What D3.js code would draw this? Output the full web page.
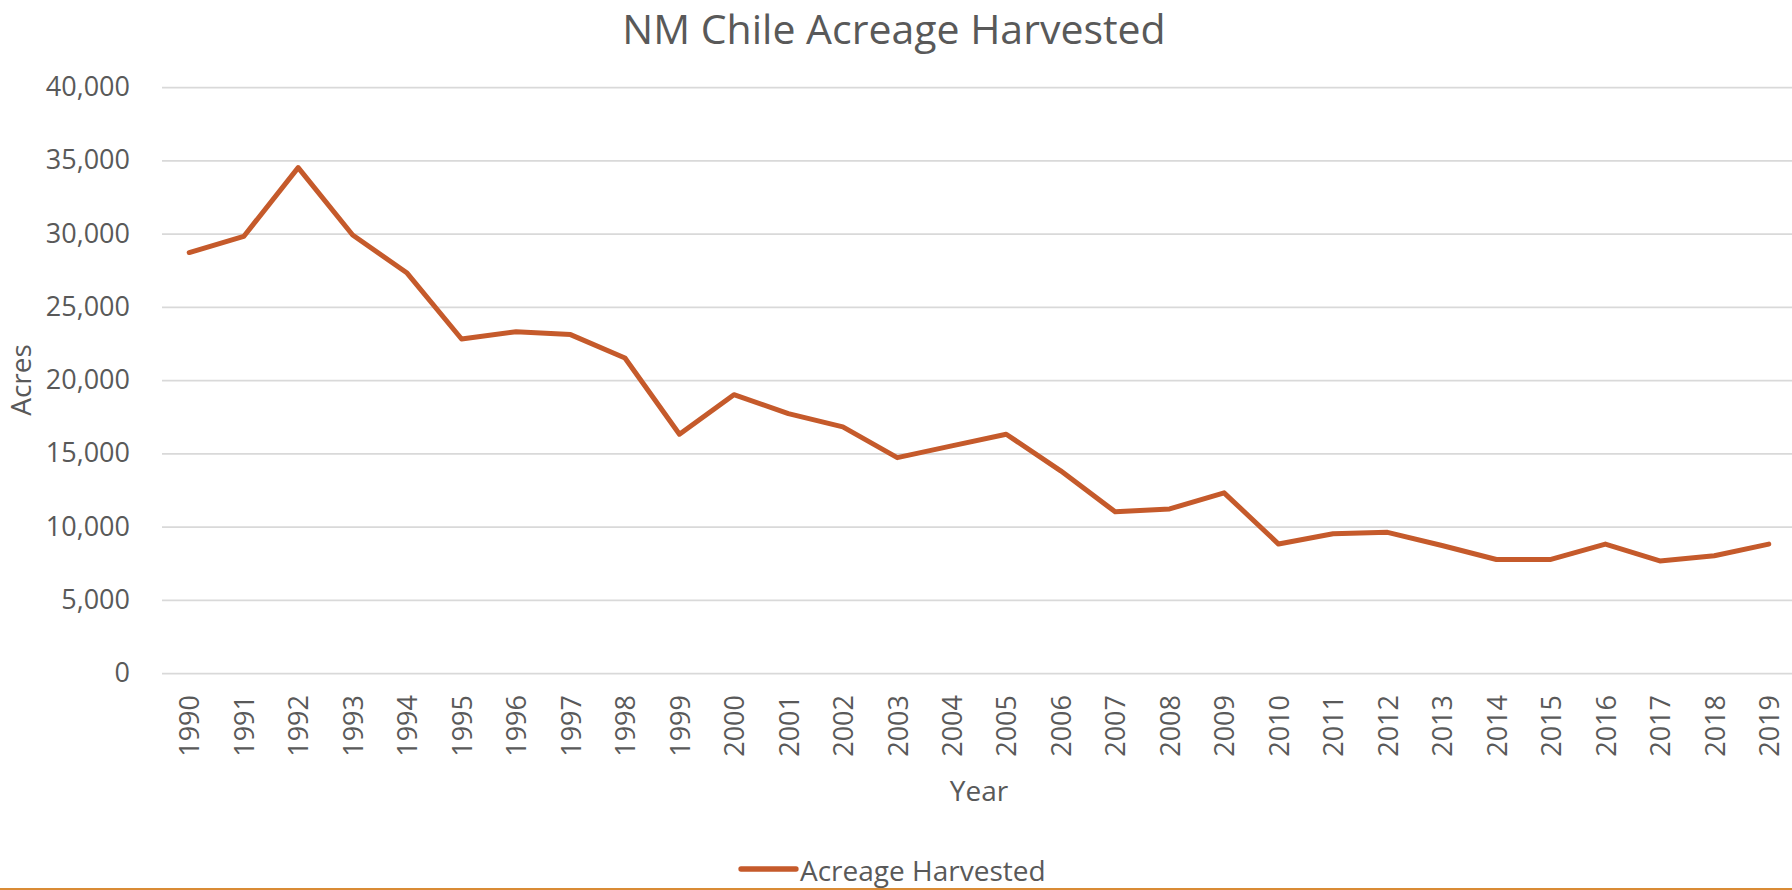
<!DOCTYPE html>
<html>
<head>
<meta charset="utf-8">
<script src="https://cdn.jsdelivr.net/npm/d3@7"></script>
<style>
  html, body { margin: 0; padding: 0; background: #ffffff; }
  svg { display: block; }
  text { font-family: "Open Sans", "Noto Sans", sans-serif; fill: #595959; }
</style>
</head>
<body>
<svg id="chart" width="1792" height="890"></svg>
<script>
// ---- data ----
const years = ["1990","1991","1992","1993","1994","1995","1996","1997","1998","1999",
               "2000","2001","2002","2003","2004","2005","2006","2007","2008","2009",
               "2010","2011","2012","2013","2014","2015","2016","2017","2018","2019"];
const acres = [28700, 29800, 34500, 29900, 27300, 22800, 23300, 23100, 21500, 16300,
               19000, 17700, 16800, 14700, 15500, 16300, 13800, 11000, 11200, 12300,
               8800, 9500, 9600, 8700, 7750, 7750, 8800, 7650, 8000, 8800];
const yTicks = [0, 5000, 10000, 15000, 20000, 25000, 30000, 35000, 40000];
const titleText = "NM Chile Acreage Harvested";
const seriesName = "Acreage Harvested";
const xTitle = "Year";
const yTitle = "Acres";

// ---- layout ----
const W = 1792, H = 890;
const plot = { left: 162, right: 1796, top: 87, bottom: 673 };
const lineColor = "#c55a2b";
const gridColor = "#d9d9d9";

const svg = d3.select("#chart");

const x = d3.scalePoint().domain(years).range([plot.left, plot.right]).padding(0.5);
const y = d3.scaleLinear().domain([0, 40000]).range([plot.bottom, plot.top]);

// gridlines + y labels
const yAxis = svg.append("g")
  .attr("transform", `translate(${plot.left},0)`)
  .call(d3.axisLeft(y).tickValues(yTicks).tickFormat(d3.format(","))
        .tickSizeInner(-(plot.right - plot.left)).tickSizeOuter(0).tickPadding(32));
yAxis.select(".domain").remove();
yAxis.selectAll(".tick line").attr("stroke", gridColor).attr("stroke-width", 1.75);
yAxis.selectAll(".tick text")
  .style("font-family", '"Open Sans", sans-serif')
  .style("font-size", "27px").attr("fill", "#595959");

// x labels
const xAxis = svg.append("g")
  .attr("transform", `translate(0,${plot.bottom})`)
  .call(d3.axisBottom(x).tickSize(0));
xAxis.select(".domain").remove();
xAxis.selectAll(".tick text")
  .style("font-family", '"Open Sans", sans-serif')
  .style("font-size", "27px").attr("fill", "#595959")
  .attr("transform", "rotate(-90)")
  .attr("text-anchor", "end")
  .attr("x", -22).attr("y", 0).attr("dy", "0.36em");

// line
const line = d3.line().x((d, i) => x(years[i])).y(d => y(d));
svg.append("path")
  .datum(acres)
  .attr("d", line)
  .attr("fill", "none")
  .attr("stroke", lineColor)
  .attr("stroke-width", 5)
  .attr("stroke-linejoin", "round")
  .attr("stroke-linecap", "round");

// title
svg.append("text")
  .attr("x", 894).attr("y", 44)
  .attr("text-anchor", "middle")
  .style("font-size", "41px")
  .text(titleText);

// axis titles
svg.append("text")
  .attr("x", (plot.left + plot.right) / 2).attr("y", 801)
  .attr("text-anchor", "middle")
  .style("font-size", "28px")
  .text(xTitle);

svg.append("text")
  .attr("transform", `translate(31,${(plot.top + plot.bottom) / 2}) rotate(-90)`)
  .attr("text-anchor", "middle")
  .style("font-size", "28px")
  .text(yTitle);

// legend
svg.append("line")
  .attr("x1", 741).attr("x2", 796).attr("y1", 869).attr("y2", 869)
  .attr("stroke", lineColor).attr("stroke-width", 5.3).attr("stroke-linecap", "round");
svg.append("text")
  .attr("x", 800).attr("y", 881)
  .style("font-size", "28px")
  .text(seriesName);

// bottom border
svg.append("line")
  .attr("x1", 0).attr("x2", W).attr("y1", 889).attr("y2", 889)
  .attr("stroke", "#d98b35").attr("stroke-width", 2);
</script>
</body>
</html>
